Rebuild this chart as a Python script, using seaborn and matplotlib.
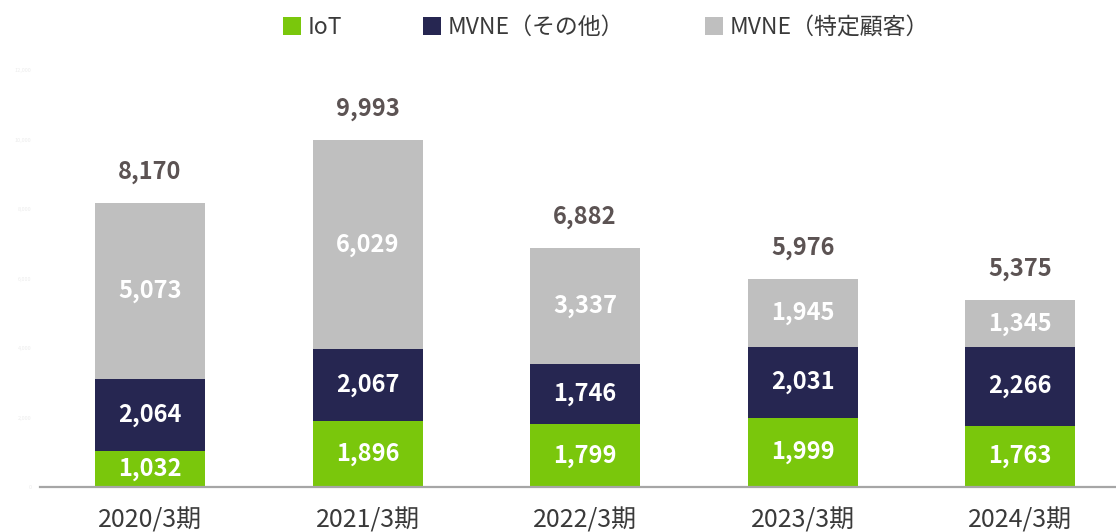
import matplotlib
matplotlib.use("Agg")
import matplotlib.pyplot as plt
from matplotlib.patches import Patch
import seaborn as sns
import pandas as pd

# Data (千件)
periods = ["2020/3期", "2021/3期", "2022/3期", "2023/3期", "2024/3期"]
iot = [1032, 1896, 1799, 1999, 1763]
mvne_other = [2064, 2067, 1746, 2031, 2266]
mvne_specific = [5073, 6029, 3337, 1945, 1345]
totals = [8170, 9993, 6882, 5976, 5375]
series_names = ["IoT", "MVNE（その他）", "MVNE（特定顧客）"]
y_ticks = [0, 2000, 4000, 6000, 8000, 10000, 12000]

c_iot = "#7AC70C"
c_other = "#262651"
c_spec = "#BFBFBF"

sns.set_theme(style="white")
plt.rcParams["font.family"] = ["Noto Sans CJK JP", "DejaVu Sans"]

df = pd.DataFrame({
    "period": periods,
    "iot": iot,
    "other": mvne_other,
    "spec": mvne_specific,
    "total": totals,
})
df["iot_other"] = df["iot"] + df["other"]

fig = plt.figure(figsize=(11.16, 5.32), dpi=100)
ax = fig.add_axes([0.0358, 0.0846, 0.9642, 0.7838])

# Stacked bars drawn as overlapping cumulative heights
bw = 0.506
sns.barplot(data=df, x="period", y="total", color=c_spec, width=bw,
            saturation=1, ax=ax, linewidth=0)
sns.barplot(data=df, x="period", y="iot_other", color=c_other, width=bw,
            saturation=1, ax=ax, linewidth=0)
sns.barplot(data=df, x="period", y="iot", color=c_iot, width=bw,
            saturation=1, ax=ax, linewidth=0)

ax.set_ylim(0, 12000)
ax.set_xlim(-0.506, 4.44)
ax.set_yticks(y_ticks)
ax.set_yticklabels([f"{v:,}" for v in y_ticks], fontsize=4, color="#ececec")
ax.set_xlabel("")
ax.set_ylabel("")
ax.tick_params(axis="x", labelsize=18, colors="#3a3a3a", length=0, pad=15)
ax.tick_params(axis="y", length=0, pad=6)
for s in ["top", "right", "left"]:
    ax.spines[s].set_visible(False)
ax.spines["bottom"].set_color("#a6a6a6")
ax.spines["bottom"].set_linewidth(1.6)

# Segment value labels
for i in range(len(periods)):
    segs = [(0, iot[i]), (iot[i], iot[i] + mvne_other[i]),
            (iot[i] + mvne_other[i], totals[i])]
    vals = [iot[i], mvne_other[i], mvne_specific[i]]
    for (lo, hi), v in zip(segs, vals):
        ax.text(i, (lo + hi) / 2, f"{v:,}", ha="center", va="center",
                fontsize=17, fontweight="bold", color="white")
    ax.annotate(f"{totals[i]:,}", (i, totals[i]), xytext=(0, 22.5),
                textcoords="offset points", ha="center", va="center",
                fontsize=17, fontweight="bold", color="#5c5353")

handles = [Patch(facecolor=c, edgecolor="none") for c in (c_iot, c_other, c_spec)]
fig.legend(handles, series_names, loc="center", bbox_to_anchor=(0.543, 0.948),
           ncol=3, frameon=False, fontsize=16.5, handlelength=0.8,
           handleheight=0.8, handletextpad=0.3, columnspacing=3.5,
           labelcolor="#3a3a3a")

fig.savefig("out.png", dpi=100)
